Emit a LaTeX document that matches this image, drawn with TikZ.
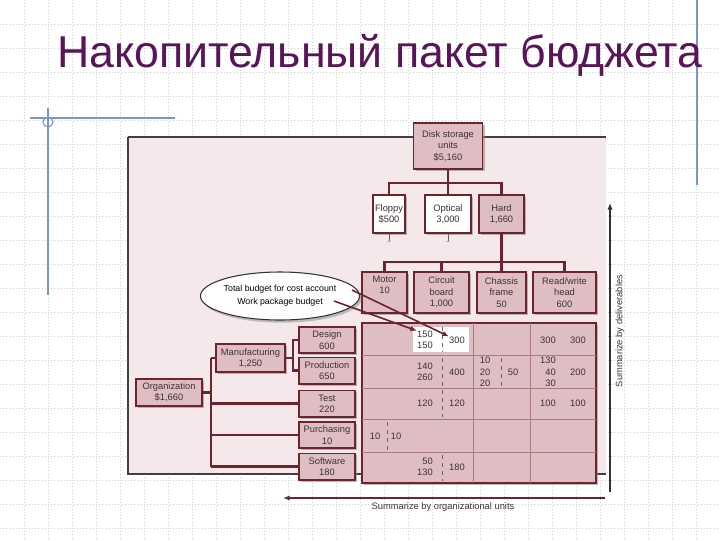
\documentclass[tikz,border=0pt]{standalone}
\usepackage{fontspec}
\setmainfont{Liberation Sans}
\usetikzlibrary{shadows,arrows.meta,shapes.geometric}
\definecolor{bdr}{RGB}{110,35,45}
\definecolor{boxf}{RGB}{222,190,195}
\definecolor{panel}{RGB}{244,232,234}
\definecolor{ttl}{RGB}{90,20,90}
\definecolor{txt}{RGB}{60,50,50}
\definecolor{slideblue}{RGB}{120,150,200}
\tikzset{
 bx/.style={draw=bdr,line width=1pt,fill=boxf,align=center,inner sep=0.5pt,text=txt,
   font=\fontsize{7}{8.5}\selectfont,drop shadow={shadow xshift=1.5pt,shadow yshift=-1.5pt,fill=black!45,opacity=.6}},
 wbx/.style={bx,fill=white},
 conn/.style={draw=bdr,line width=1.6pt},
 num/.style={text=txt,font=\fontsize{7}{8.5}\selectfont,align=center,inner sep=0pt},
 gl/.style={draw=bdr!60,line width=0.5pt},
 dl/.style={draw=black!60,line width=0.4pt,dashed},
 arr/.style={draw=bdr,line width=1.2pt,-{Latex[length=5pt,width=4pt]}}
}
\begin{document}
\begin{tikzpicture}[x=0.75pt,y=-0.75pt]
\useasboundingbox (0,0) rectangle (720,540);
\fill[white] (0,0) rectangle (720,540);
% grid of slide
\foreach \i in {24,48,...,720} \draw[black!20,dotted,line width=0.4pt] (\i,0) -- (\i,540);
\foreach \j in {24,48,...,540} \draw[black!20,dotted,line width=0.4pt] (0,\j) -- (720,\j);
\draw[slideblue,line width=0.8pt] (48,108) -- (48,295);
\draw[slideblue,line width=0.8pt] (30,118) -- (175,118);
\draw[slideblue,line width=0.8pt] (48,122) circle (5);
\draw[slideblue,line width=0.8pt] (697,0) -- (697,185);
\node[anchor=west,text=ttl,font=\fontsize{33.5}{38}\selectfont,inner sep=0pt] (title) at (57,55) {Накопительный пакет бюджета};
% panel
\fill[panel] (128,137) rectangle (606,474);
\draw[black!75,line width=1pt] (128,137) -- (606,137);
\draw[black!75,line width=0.8pt] (128,137) -- (128,474) -- (606,474);
% top nodes
\node[bx,minimum width=51.75pt,minimum height=34.5pt] (disk) at (448,146) {Disk storage\\units\\\$5,160};
\node[wbx,minimum width=24pt,minimum height=28.5pt] (floppy) at (389,214) {Floppy\\\$500};
\node[wbx,minimum width=34.5pt,minimum height=28.5pt] (optical) at (448,214) {Optical\\3,000};
\node[bx,minimum width=33.75pt,minimum height=28.5pt] (hard) at (501.5,214) {Hard\\1,660};
\node[bx,minimum width=33.75pt,minimum height=30.75pt,text depth=12pt] (motor) at (384.5,292.5) {Motor\\10};
\node[bx,minimum width=41.25pt,minimum height=30.75pt] (circuit) at (441.5,292.5) {Circuit\\board\\1,000};
\node[bx,minimum width=36.75pt,minimum height=30.75pt] (chassis) at (501.5,292.5) {Chassis\\frame\\50};
\node[bx,minimum width=47.25pt,minimum height=30.75pt] (rw) at (564.5,292.5) {Read/write\\head\\600};
\coordinate (j1) at (448,183);
\draw[conn] (disk.south) -- (j1);
\draw[conn] (floppy.north) |- (j1) -| (hard.north);
\draw[conn] (optical.north) -- (j1);
\coordinate (j2) at (501.5,262);
\draw[conn] (hard.south) -- (j2);
\draw[conn] (motor.north) |- (j2) -| (rw.north);
\draw[conn] (circuit.north) -- (circuit.north |- j2);
\draw[conn] (chassis.north) -- (chassis.north |- j2);
\draw[black!60,line width=0.5pt] (floppy.south) -- ++(0,7) node[below,inner sep=1pt,font=\tiny] (t1) {\textasciitilde};
\draw[black!60,line width=0.5pt] (optical.south) -- ++(0,7) node[below,inner sep=1pt,font=\tiny] (t2) {\textasciitilde};
% matrix
\node[bx,minimum width=175.5pt,minimum height=120pt] (mat) at (479,403) {};
\fill[white] (413,327) rectangle (469,352);
\foreach \y in {355,388,419,452} \draw[gl] (362,\y) -- (596,\y);
\draw[gl] (473,323) -- (473,483);
\draw[gl] (530,323) -- (530,483);
\draw[dl] (442,327) -- (442,352);
\draw[dl] (442,358) -- (442,386);
\draw[dl] (442,390) -- (442,417);
\draw[dl] (442,455) -- (442,481);
\draw[dl] (501,358) -- (501,386);
\draw[dl] (387,422) -- (387,450);
\node[num] (n1) at (425,340) {150\\150};
\node[num] (n2) at (457,340) {300};
\node[num] (n3) at (548,340) {300};
\node[num] (n4) at (578,340) {300};
\node[num] (n5) at (425,372) {140\\260};
\node[num] (n6) at (457,372) {400};
\node[num] (n7) at (485,372) {10\\20\\20};
\node[num] (n8) at (513,372) {50};
\node[num] (n9) at (548,372) {130\\\phantom{0}40\\\phantom{0}30};
\node[num] (n10) at (578,372) {200};
\node[num] (n11) at (425,403) {120};
\node[num] (n12) at (457,403) {120};
\node[num] (n13) at (548,403) {100};
\node[num] (n14) at (578,403) {100};
\node[num] (n15) at (375,436) {10};
\node[num] (n16) at (396,436) {10};
\node[num] (n17) at (425,467) {\phantom{0}50\\130};
\node[num] (n18) at (457,467) {180};
% org nodes
\node[bx,minimum width=42pt,minimum height=19.5pt] (design) at (327,340) {Design\\600};
\node[bx,minimum width=42pt,minimum height=20pt] (prod) at (327,370.5) {Production\\650};
\node[bx,minimum width=42pt,minimum height=20pt] (test) at (327,403.5) {Test\\220};
\node[bx,minimum width=42pt,minimum height=19.5pt] (purch) at (327,435) {Purchasing\\10};
\node[bx,minimum width=42pt,minimum height=20pt] (soft) at (327,466.5) {Software\\180};
\node[bx,minimum width=51.75pt,minimum height=21pt] (manuf) at (250.5,358) {Manufacturing\\1,250};
\node[bx,minimum width=49.5pt,minimum height=20.25pt] (org) at (169,392.5) {Organization\\\$1,660};
\coordinate (mj) at (293,358);
\draw[conn] (manuf.east) -- (mj);
\draw[conn] (design.west) -| (mj) |- (prod.west);
\coordinate (ov) at (211,392.5);
\draw[conn] (org.east) -- (ov);
\draw[conn] (ov |- manuf.west) -- (ov |- soft.west);
\draw[conn] (ov |- manuf.west) -- (manuf.west);
\draw[conn] (ov |- test.west) -- (test.west);
\draw[conn] (ov |- purch.west) -- (purch.west);
\draw[conn] (ov |- soft.west) -- (soft.west);
% ellipse callout
\node[draw=black!80,fill=white,ellipse,line width=0.8pt,minimum width=108pt,minimum height=36pt,inner sep=0pt,align=center,font=\fontsize{6.6}{9.5}\selectfont,
  drop shadow={shadow xshift=1.5pt,shadow yshift=-2pt,fill=black!40,opacity=.6}] (ell) at (280,296) {Total budget for cost account\\Work package budget};
\coordinate (e1) at (352,290);
\coordinate (e2) at (334,301);
\draw[arr] (e1) -- (n2.north west);
\draw[arr] (e2) -- (n1.north west);
% summarize arrows
\coordinate (a1) at (605,498);
\coordinate (a2) at (283,498);
\draw[arr] (a1) -- (a2);
\node[num] (lb1) at (443,507) {Summarize by organizational units};
\coordinate (b1) at (610,492);
\coordinate (b2) at (610,203);
\draw[draw=black!80,line width=0.8pt,-{Latex[length=5pt,width=4pt]}] (b1) -- (b2);
\node[num,rotate=90] (lb2) at (620,331) {Summarize by deliverables};
\end{tikzpicture}
\end{document}
